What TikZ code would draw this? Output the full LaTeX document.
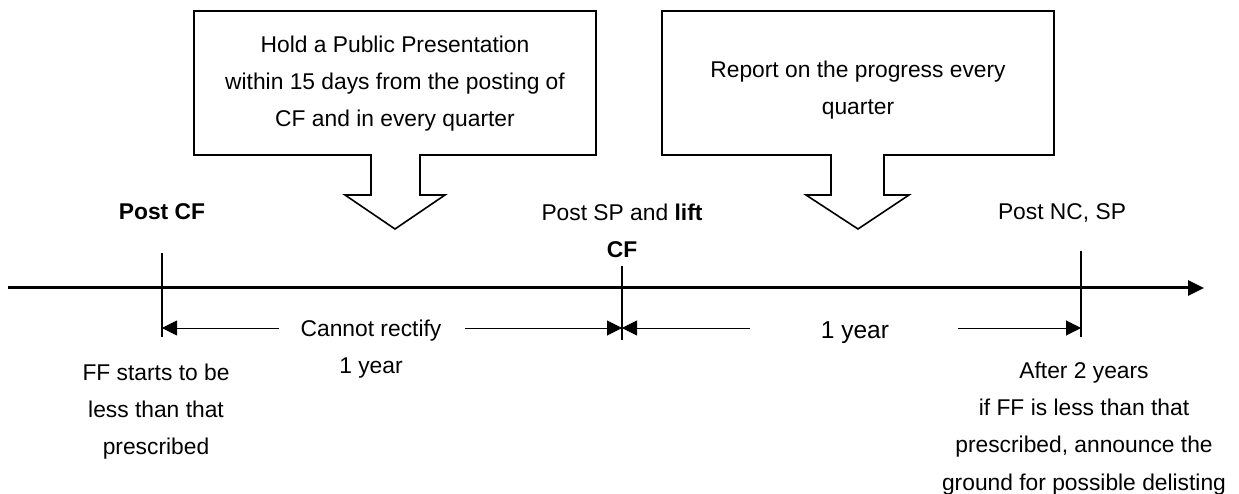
\documentclass[tikz,border=0pt]{standalone}
\usepackage{fontspec}
\setmainfont{Liberation Sans}
\usetikzlibrary{arrows.meta}
\begin{document}
\begin{tikzpicture}[x=1pt,y=-1pt,
  lbl/.style={inner sep=0pt, font=\fontsize{22.8pt}{37.3pt}\selectfont, align=center},
  callout/.style={draw=black, line width=1.6pt, line join=miter, fill=white},
  axis/.style={line width=3pt, -{Triangle[length=16pt,width=15pt]}},
  tickline/.style={line width=1.2pt},
  dim/.style={line width=1pt, -{Triangle[length=15pt,width=15pt]}},
]
% canvas
\fill[white] (0,0) rectangle (1239,494);
\useasboundingbox (0,0) rectangle (1239,494);

% callout boxes with downward block arrows
\draw[callout] (194,11) -- (596,11) -- (596,155) -- (420,155) -- (420,195)
  -- (445,195) -- (395,229) -- (345,195) -- (371,195) -- (371,155)
  -- (194,155) -- cycle;
\draw[callout] (662,11) -- (1054,11) -- (1054,155) -- (884,155) -- (884,195)
  -- (909,195) -- (858,229) -- (806,195) -- (831,195) -- (831,155)
  -- (662,155) -- cycle;

\node[lbl, anchor=north] (hold) at (395,35.5)
  {Hold a Public Presentation\\within 15 days from the posting of\\CF and in every quarter};
\node[lbl, anchor=north] (report) at (858,60.5)
  {Report on the progress every\\quarter};

% time axis
\coordinate (ax0) at (8,288);
\coordinate (ax1) at (1204,288);
\draw[axis] (ax0) -- (ax1);

% event ticks
\coordinate (t1top) at (162,253);
\coordinate (t1bot) at (162,337);
\coordinate (t2top) at (622,266);
\coordinate (t2bot) at (622,340);
\coordinate (t3top) at (1081,251);
\coordinate (t3bot) at (1081,337);
\draw[tickline] (t1top) -- (t1bot);
\draw[tickline] (t2top) -- (t2bot);
\draw[tickline] (t3top) -- (t3bot);

% event labels
\node[lbl, anchor=base, font=\fontsize{22.8pt}{37.3pt}\selectfont\bfseries] (postcf) at (162,220) {Post CF};
\node[lbl, anchor=north] (postsp) at (622,203.5) {Post SP and \textbf{lift}\\\textbf{CF}};
\node[lbl, anchor=base] (postnc) at (1062,220) {Post NC, SP};

% period dimensions
\coordinate (d1a) at (162,328);
\coordinate (d1b) at (622,328);
\coordinate (d2b) at (1081,328);
\coordinate (g1l) at (279,328);
\coordinate (g1r) at (465,328);
\coordinate (g2l) at (750,328);
\coordinate (g2r) at (958,328);
\draw[dim] (g1l) -- (d1a);
\draw[dim] (g1r) -- (d1b);
\draw[dim] (g2l) -- (d1b);
\draw[dim] (g2r) -- (d2b);

\node[lbl, anchor=north] (rectify) at (371,319.5) {Cannot rectify\\1 year};
\node[lbl, anchor=base, font=\fontsize{24.5pt}{30pt}\selectfont] (oneyear) at (855,338) {1 year};

% notes under the axis
\node[lbl, anchor=north] (ffstart) at (156,363.4)
  {FF starts to be\\less than that\\prescribed};
\node[lbl, anchor=north] (after) at (1084,361.5)
  {After 2 years\\if FF is less than that\\prescribed, announce the\\ground for possible delisting};
\end{tikzpicture}
\end{document}
